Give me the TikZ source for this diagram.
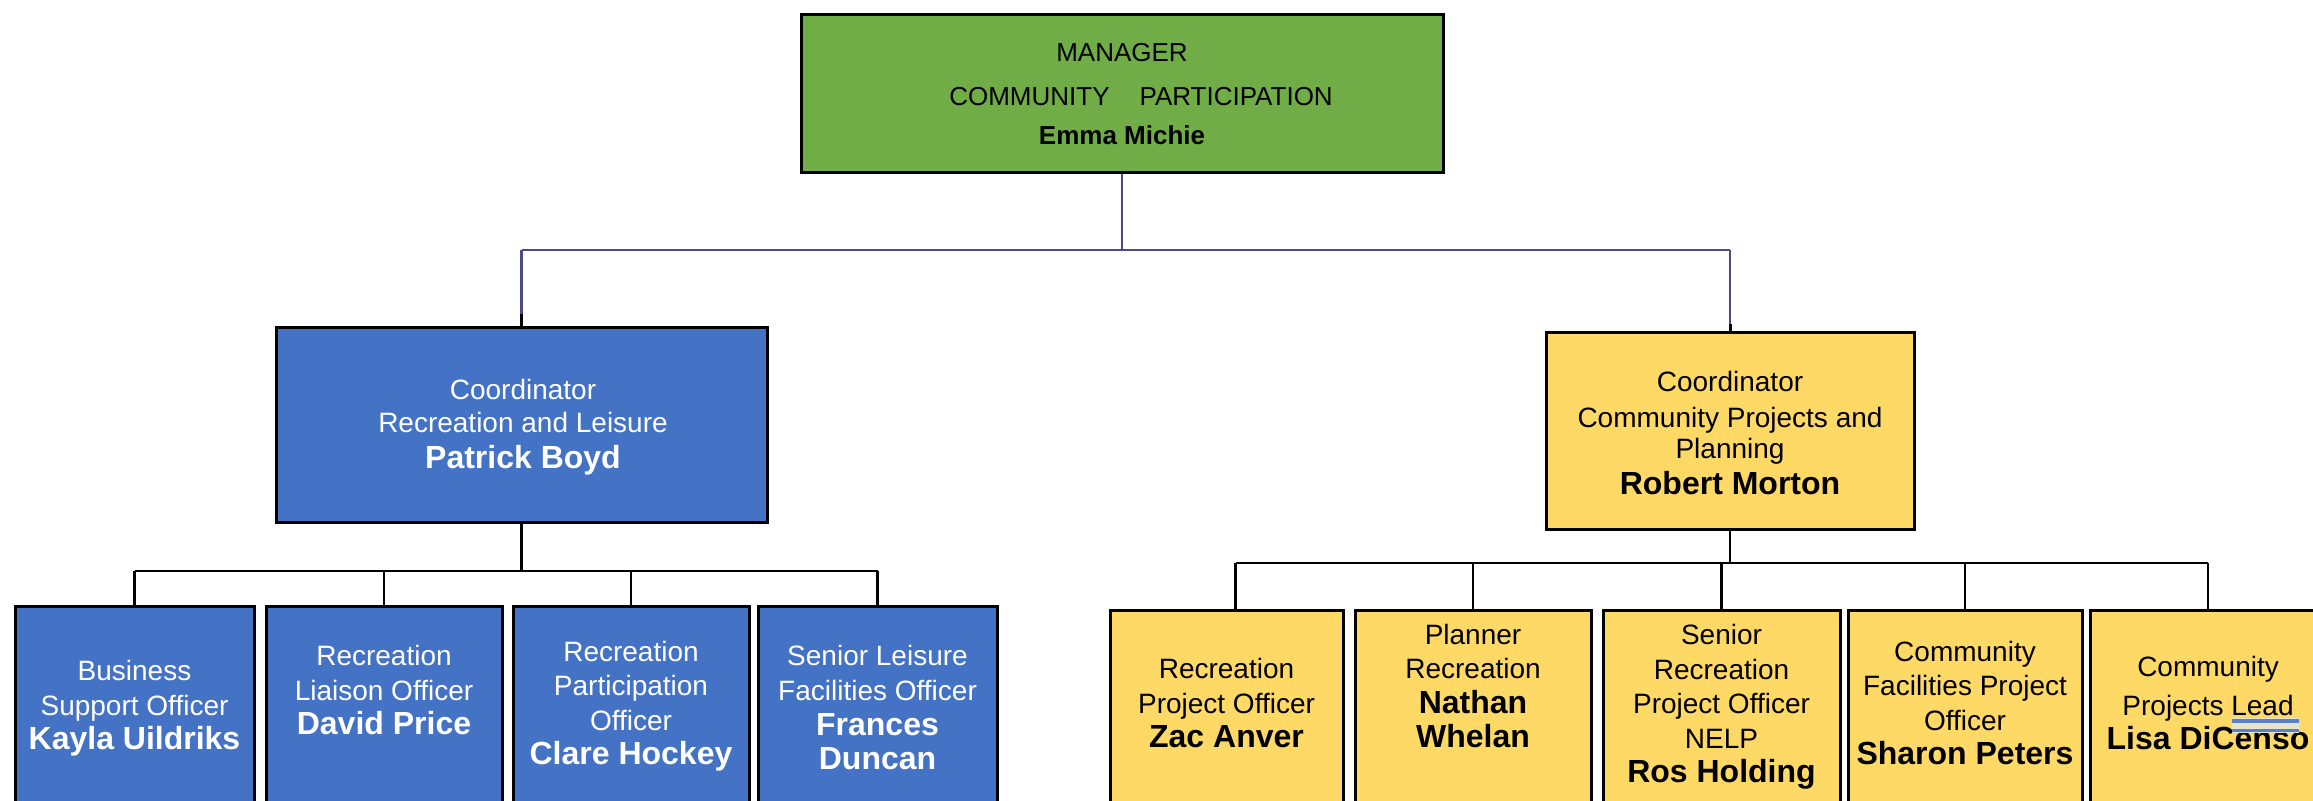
\documentclass[tikz,border=0pt]{standalone}
\usepackage{fontspec}
\setmainfont{Liberation Sans}
\definecolor{mgrgreen}{HTML}{70AD47}
\definecolor{boxblue}{HTML}{4472C4}
\definecolor{boxyellow}{HTML}{FFD966}
\definecolor{linepurple}{HTML}{4B4B8C}
\definecolor{ulblue}{HTML}{5B80C6}
\definecolor{ulpale}{HTML}{E6E3CF}
\newcommand\nmb[1]{{\fontsize{9.6}{10.4}\selectfont\bfseries #1}}
\begin{document}
\begin{tikzpicture}[x=0.3pt,y=-0.3pt,
  box/.style={draw=black, line width=0.9pt, inner sep=0pt, rectangle},
  greenbox/.style={box, fill=mgrgreen},
  bluebox/.style={box, fill=boxblue},
  yellowbox/.style={box, fill=boxyellow},
  sz/.style 2 args={minimum width=#1*0.3pt, minimum height=#2*0.3pt},
  txt/.style={align=center, inner sep=0pt, anchor=base, text=black,
    font=\fontsize{8.4}{10.4}\selectfont},
  wtxt/.style={txt, text=white},
  pline/.style={draw=linepurple, line width=0.65pt},
  bline/.style={draw=black, line width=0.75pt},
]
\useasboundingbox (0,0) rectangle (2313,801);
\clip (0,0) rectangle (2313,801);

% boxes
\node[greenbox, sz={642}{158}] (mgr) at (1122,94) {};
\node[bluebox, sz={491}{195}] (crl) at (521.5,425.5) {};
\node[yellowbox, sz={368}{197}] (ccp) at (1730,431.5) {};

\node[bluebox, sz={239}{293}] (b1) at (134.5,753.5) {};
\node[bluebox, sz={236}{293}] (b2) at (384,753.5) {};
\node[bluebox, sz={236}{293}] (b3) at (631,753.5) {};
\node[bluebox, sz={239}{293}] (b4) at (877.5,753.5) {};

\node[yellowbox, sz={233}{289}] (y1) at (1226.5,755.5) {};
\node[yellowbox, sz={236}{289}] (y2) at (1473,755.5) {};
\node[yellowbox, sz={237}{289}] (y3) at (1721.5,755.5) {};
\node[yellowbox, sz={234}{289}] (y4) at (1965,755.5) {};
\node[yellowbox, sz={236}{289}] (y5) at (2208,755.5) {};

% connectors: manager to coordinators
\coordinate (tb) at (1122,250);
\draw[pline] (mgr.south) -- (mgr.south |- tb);
\draw[pline] (crl.north |- tb) -- (ccp.north |- tb);
\draw[pline] (crl.north |- tb) -- (crl.north);
\draw[pline] (ccp.north |- tb) -- (ccp.north);
\draw[bline, line width=0.9pt] ([yshift=3.6pt]crl.north) -- (crl.north);
\draw[bline, line width=0.9pt] ([yshift=2.1pt]ccp.north) -- (ccp.north);

% left bus
\coordinate (lb) at (521,571);
\draw[bline] (crl.south) -- (crl.south |- lb);
\draw[bline] (b1.north |- lb) -- (b4.north |- lb);
\foreach \b in {b1,b2,b3,b4} \draw[bline] (\b.north |- lb) -- (\b.north);

% right bus
\coordinate (rb) at (1730,563);
\coordinate (y1d) at ([xshift=2.7pt]y1.north);
\draw[bline] (ccp.south) -- (ccp.south |- rb);
\draw[bline] (y1d |- rb) -- (y5.north |- rb);
\draw[bline] (y1d |- rb) -- (y1d);
\foreach \b in {y2,y3,y4,y5} \draw[bline] (\b.north |- rb) -- (\b.north);

% texts (anchored at the baseline of the last line)
\node[txt, font=\fontsize{7.8}{11.7}\selectfont] (tmgr) at (1122,145)
  {MANAGER\\[1.5pt]\hspace*{11.4pt}COMMUNITY\hspace{9pt}PARTICIPATION\\\textbf{Emma Michie}};
\node[wtxt, font=\fontsize{8.4}{10}\selectfont] (tcrl) at (523,469)
  {Coordinator\\Recreation and Leisure\\[0.8pt]\nmb{Patrick Boyd}};
\node[txt, font=\fontsize{8.4}{10}\selectfont] (tccp) at (1730,495)
  {Coordinator\\[0.8pt]Community Projects and\\[-0.7pt]Planning\\[0.8pt]\nmb{Robert Morton}};

\node[wtxt] (tb1) at (134.5,750) {Business\\Support Officer\\\nmb{Kayla Uildriks}};
\node[wtxt] (tb2) at (384,735) {Recreation\\Liaison Officer\\\nmb{David Price}};
\node[wtxt] (tb3) at (631,765) {Recreation\\Participation\\Officer\\\nmb{Clare Hockey}};
\node[wtxt] (tb4) at (877.5,770) {Senior Leisure\\Facilities Officer\\\nmb{Frances}\\\nmb{Duncan}};

\node[txt] (ty1) at (1226.5,748) {Recreation\\Project Officer\\\nmb{Zac Anver}};
\node[txt] (ty2) at (1473,748) {Planner\\Recreation\\\nmb{Nathan}\\\nmb{Whelan}};
\node[txt] (ty3) at (1721.5,783) {Senior\\Recreation\\Project Officer\\NELP\\\nmb{Ros Holding}};
\node[txt] (ty4) at (1965,765) {Community\\Facilities Project\\Officer\\\nmb{Sharon Peters}};
\node[txt] (ty5) at (2208,750) {Community\\[1.2pt]Projects Lead\\\nmb{Lisa DiCenso}};

% spelling-check style double underline under "Lead"
\fill[ulpale] (2232,718) rectangle (2299,733);
\draw[ulblue, line width=1.05pt] (2232,721) -- (2299,721);
\draw[ulblue, line width=1.05pt] (2232,730.5) -- (2299,730.5);
\end{tikzpicture}
\end{document}
